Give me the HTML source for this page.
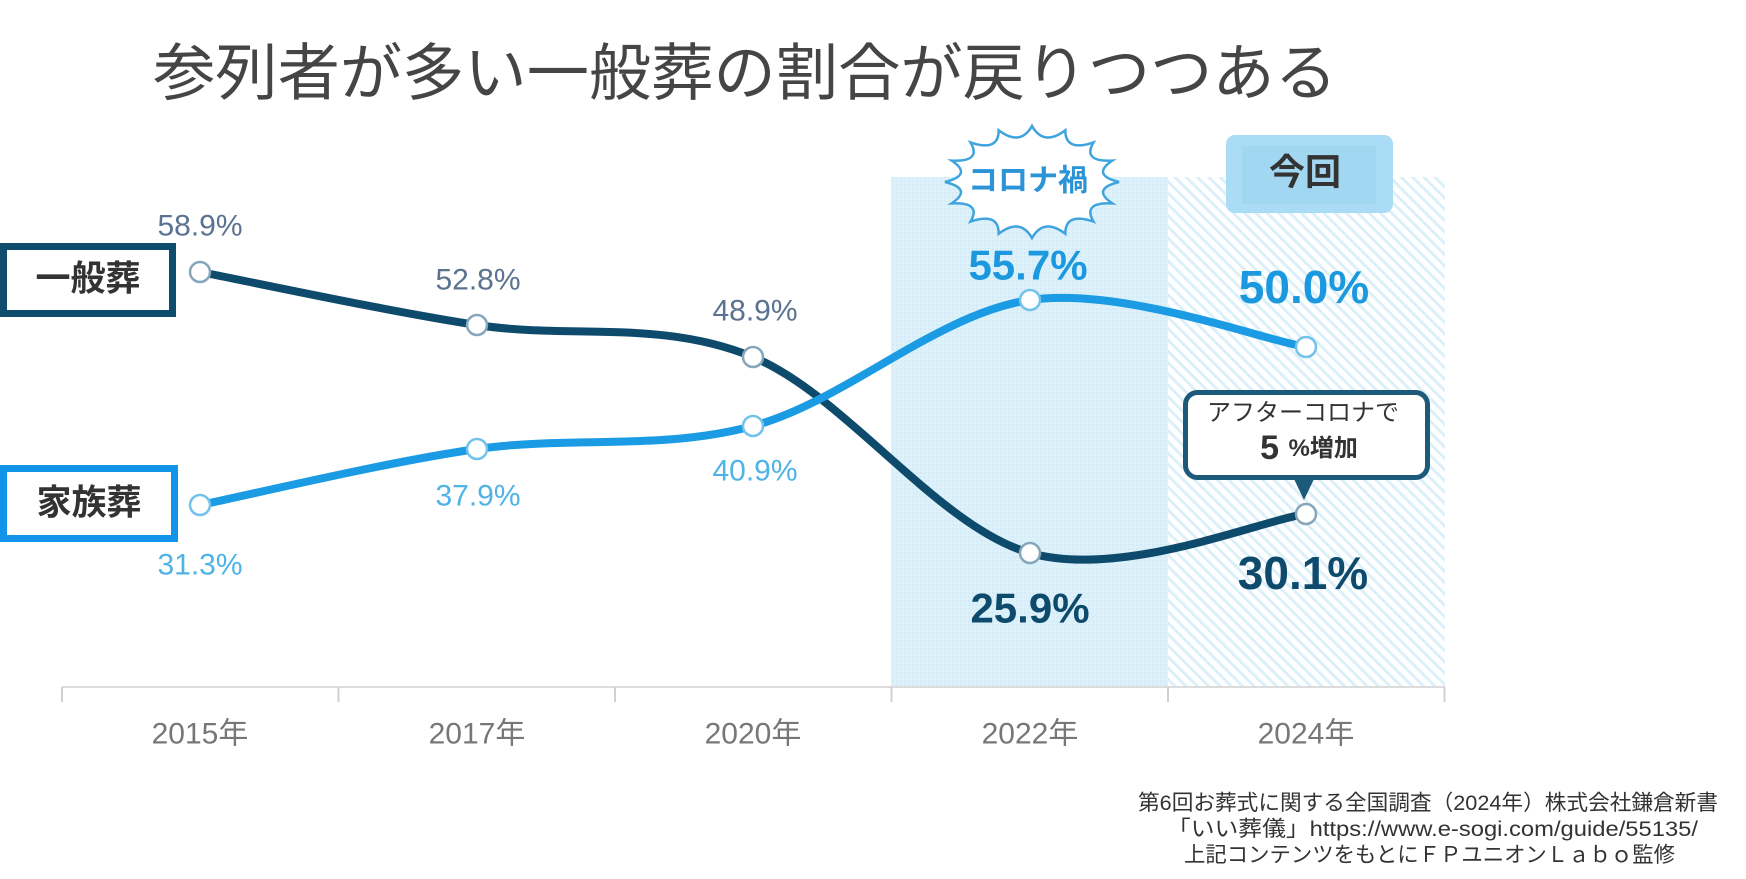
<!DOCTYPE html>
<html><head><meta charset="utf-8"><style>
html,body{margin:0;padding:0;background:#fff;}
svg{display:block;}
text{font-family:"Liberation Sans","Noto Sans CJK JP",sans-serif;}
</style></head><body>
<svg width="1746" height="879" viewBox="0 0 1746 879" xmlns="http://www.w3.org/2000/svg">
<defs>
<pattern id="hatch" width="8" height="8" patternUnits="userSpaceOnUse" patternTransform="rotate(-45)">
<rect width="8" height="8" fill="#ffffff"/><rect width="3" height="8" fill="#dcf0fa"/>
</pattern>
<pattern id="grid" width="4" height="4" patternUnits="userSpaceOnUse">
<rect width="4" height="4" fill="#ddf1fa"/><rect width="2" height="2" fill="#d5ecf8"/>
</pattern>
</defs>
<rect width="1746" height="879" fill="#fff"/>
<!-- Title -->
<text x="153" y="74" font-size="62" fill="#454545" dominant-baseline="central" textLength="1184" lengthAdjust="spacingAndGlyphs">参列者が多い一般葬の割合が戻りつつある</text>

<!-- shaded regions -->
<rect x="891" y="177" width="277" height="509" fill="url(#grid)"/>
<rect x="1168" y="177" width="277" height="509" fill="url(#hatch)"/>

<!-- axis -->
<line x1="62" y1="687" x2="1445" y2="687" stroke="#dcdcdc" stroke-width="2"/>
<g stroke="#d0d0d0" stroke-width="2">
<line x1="62" y1="687" x2="62" y2="702"/>
<line x1="338.5" y1="687" x2="338.5" y2="702"/>
<line x1="615" y1="687" x2="615" y2="702"/>
<line x1="891.5" y1="687" x2="891.5" y2="702"/>
<line x1="1168" y1="687" x2="1168" y2="702"/>
<line x1="1444.5" y1="687" x2="1444.5" y2="702"/>
</g>
<g font-size="30" fill="#777" text-anchor="middle" dominant-baseline="central">
<text x="200" y="734">2015年</text>
<text x="477" y="734">2017年</text>
<text x="753" y="734">2020年</text>
<text x="1030" y="734">2022年</text>
<text x="1306" y="734">2024年</text>
</g>

<!-- Corona bubble -->
<path d="M1119,182 Q1090.8,189 1112.4,203.4 Q1081.9,202 1093.5,221.6 Q1065.3,211.9 1065.3,233.7 Q1043.7,217.3 1032,238 Q1020.3,217.3 998.7,233.7 Q998.7,211.9 970.5,221.6 Q982.1,202 951.6,203.4 Q973.2,189 945,182 Q973.2,175 951.6,160.6 Q982.1,162 970.5,142.4 Q998.7,152.1 998.7,130.3 Q1020.3,146.7 1032,126 Q1043.7,146.7 1065.3,130.3 Q1065.3,152.1 1093.5,142.4 Q1081.9,162 1112.4,160.6 Q1090.8,175 1119,182 Z" fill="#fff" stroke="#3fa3de" stroke-width="2.5"/>
<text x="1028" y="181" font-size="30" font-weight="bold" fill="#2b93d6" text-anchor="middle" dominant-baseline="central">コロナ禍</text>

<!-- 今回 box -->
<rect x="1226" y="135" width="167" height="78" rx="9" fill="#abdcf5"/>
<rect x="1242" y="146" width="134" height="58" fill="#a2d7f2"/>
<text x="1305" y="172" font-size="36" font-weight="bold" fill="#333" text-anchor="middle" dominant-baseline="central">今回</text>

<!-- series lines -->
<path d="M200,272 C246.2,280.8 384.8,310.8 477,325 C569.2,339.2 660.8,319 753,357 C845.2,395 937.8,526.8 1030,553 C1122.2,579.2 1260,520.5 1306,514" fill="none" stroke="#0e4a6c" stroke-width="8" stroke-linecap="round"/>
<path d="M200,505 C246.2,495.7 384.8,462.2 477,449 C569.2,435.8 660.8,450.8 753,426 C845.2,401.2 937.8,313.2 1030,300 C1122.2,286.8 1260,339.2 1306,347" fill="none" stroke="#1a9be3" stroke-width="8" stroke-linecap="round"/>

<!-- markers -->
<g fill="#fff" stroke="#86a6bb" stroke-width="2.5">
<circle cx="200" cy="272" r="10"/><circle cx="477" cy="325" r="10"/><circle cx="753" cy="357" r="10"/><circle cx="1030" cy="553" r="10"/><circle cx="1306" cy="514" r="10"/>
</g>
<g fill="#fff" stroke="#72c2ec" stroke-width="2.5">
<circle cx="200" cy="505" r="10"/><circle cx="477" cy="449" r="10"/><circle cx="753" cy="426" r="10"/><circle cx="1030" cy="300" r="10"/><circle cx="1306" cy="347" r="10"/>
</g>

<!-- small labels -->
<g font-size="30" text-anchor="middle" dominant-baseline="central">
<text x="200" y="226" fill="#5b7390">58.9%</text>
<text x="478" y="280" fill="#5b7390">52.8%</text>
<text x="755" y="311" fill="#5b7390">48.9%</text>
<text x="478" y="496" fill="#4fb3e6">37.9%</text>
<text x="755" y="471" fill="#4fb3e6">40.9%</text>
<text x="200" y="565" fill="#4fb3e6">31.3%</text>
</g>
<!-- big labels -->
<g font-weight="bold" text-anchor="middle" dominant-baseline="central">
<text x="1028" y="265" font-size="42" fill="#1b98de">55.7%</text>
<text x="1304" y="287" font-size="46" fill="#1b98de">50.0%</text>
<text x="1030" y="608" font-size="42" fill="#0e4a6c">25.9%</text>
<text x="1303" y="573" font-size="46" fill="#0e4a6c">30.1%</text>
</g>

<!-- callout -->
<rect x="1185.5" y="392.5" width="242" height="85" rx="12" fill="#fff" stroke="#1d5a7a" stroke-width="5"/>
<polygon points="1294,479 1314,479 1304,500" fill="#1d5a7a"/>
<text x="1303" y="413" font-size="24" fill="#333" text-anchor="middle" dominant-baseline="central">アフターコロナで</text>
<text x="1309" y="448" text-anchor="middle" dominant-baseline="central" fill="#333"><tspan font-size="34" font-weight="bold">5 </tspan><tspan font-size="24" font-weight="bold">%増加</tspan></text>

<!-- legend boxes -->
<rect x="3.5" y="246.5" width="169" height="67" fill="#fff" stroke="#0f4c6e" stroke-width="7"/>
<text x="88" y="279" font-size="35" font-weight="bold" fill="#333" text-anchor="middle" dominant-baseline="central">一般葬</text>
<rect x="3.5" y="468.5" width="171" height="70" fill="#fff" stroke="#1295e8" stroke-width="7"/>
<text x="89" y="503" font-size="35" font-weight="bold" fill="#333" text-anchor="middle" dominant-baseline="central">家族葬</text>

<!-- footnote -->
<g font-size="21.5" fill="#333" dominant-baseline="central">
<text x="1138" y="803" textLength="580" lengthAdjust="spacingAndGlyphs">第6回お葬式に関する全国調査（2024年）株式会社鎌倉新書</text>
<text x="1167" y="829" textLength="531" lengthAdjust="spacingAndGlyphs">「いい葬儀」https://www.e-sogi.com/guide/55135/</text>
<text x="1184" y="855" textLength="491" lengthAdjust="spacingAndGlyphs">上記コンテンツをもとにＦＰユニオンＬａｂｏ監修</text>
</g>
</svg>
</body></html>
